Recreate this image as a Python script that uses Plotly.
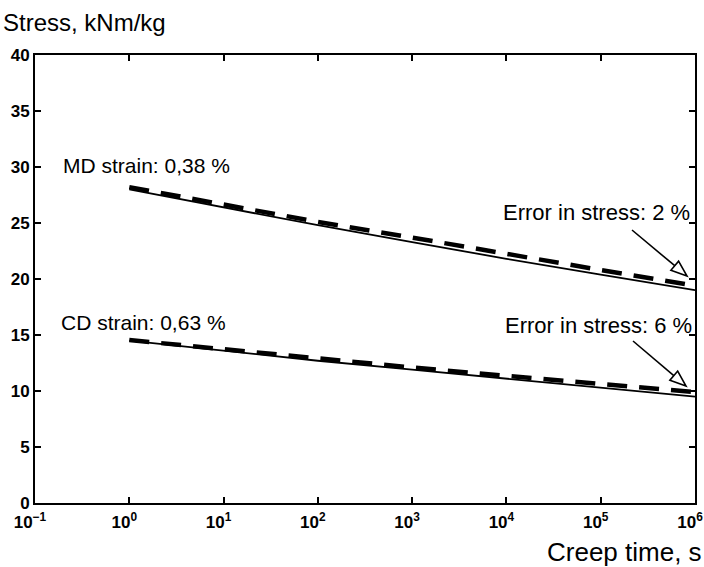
import plotly.graph_objects as go
import math

# Data
creep_time = [1, 10, 100, 1e3, 1e4, 1e5, 1e6]
md_solid = [28.0, 26.4, 24.8, 23.3, 21.8, 20.4, 19.0]
md_dashed = [28.2, 26.6, 25.1, 23.7, 22.2, 20.8, 19.4]
cd_solid = [14.5, 13.6, 12.7, 11.9, 11.1, 10.3, 9.5]
cd_dashed = [14.55, 13.7, 12.85, 12.1, 11.35, 10.6, 9.9]

x_tickvals = [0.1, 1, 10, 100, 1e3, 1e4, 1e5, 1e6]
x_ticktext = ["10<sup>\u22121</sup>", "10<sup>0</sup>", "10<sup>1</sup>", "10<sup>2</sup>",
              "10<sup>3</sup>", "10<sup>4</sup>", "10<sup>5</sup>", "10<sup>6</sup>"]

W, H = 704, 567
L, R, T, B = 35, 9, 55, 64
PW, PH = W - L - R, H - T - B

def px(x, y):
    return (x - L) / PW, (H - B - y) / PH

FONT = "Liberation Sans, Arial, Helvetica, sans-serif"

fig = go.Figure()
for ys in (md_solid, cd_solid):
    fig.add_trace(go.Scatter(x=creep_time, y=ys, mode="lines",
                             line=dict(color="black", width=1.8), showlegend=False))
for ys in (md_dashed, cd_dashed):
    fig.add_trace(go.Scatter(x=creep_time, y=ys, mode="lines",
                             line=dict(color="black", width=4.5, dash="20px,12px"),
                             showlegend=False))

annotations = []
def txt(text, x, y, xanchor, size=22):
    annotations.append(dict(text=text, x=x, y=y, xref="paper", yref="paper",
                            xanchor=xanchor, yanchor="middle", showarrow=False,
                            font=dict(family=FONT, size=size, color="black")))

x, y = px(61, 165); txt("MD strain: 0,38 %", x, y, "left", 21)
x, y = px(59, 322); txt("CD strain: 0,63 %", x, y, "left", 21)
x, y = px(692, 212); txt("Error in stress: 2 %", x, y, "right")
x, y = px(694, 325); txt("Error in stress: 6 %", x, y, "right")
x, y = px(1, 22); txt("Stress, kNm/kg", x, y, "left", 24)
x, y = px(704, 552); txt("Creep time, s", x, y, "right", 26)

shapes = []
def arrow(x0, y0, x1, y1, hl=16, hw=6):
    dx, dy = x1 - x0, y1 - y0
    n = math.hypot(dx, dy)
    ux, uy = dx / n, dy / n
    bx, by = x1 - hl * ux, y1 - hl * uy
    pxp, pyp = -uy, ux
    a = px(x0, y0); b = px(bx, by)
    shapes.append(dict(type="line", xref="paper", yref="paper", x0=a[0], y0=a[1],
                       x1=b[0], y1=b[1], line=dict(color="black", width=1.6)))
    c1 = px(bx + hw * pxp, by + hw * pyp)
    c2 = px(bx - hw * pxp, by - hw * pyp)
    t = px(x1, y1)
    path = f"M {c1[0]},{c1[1]} L {t[0]},{t[1]} L {c2[0]},{c2[1]} Z"
    shapes.append(dict(type="path", xref="paper", yref="paper", path=path,
                       fillcolor="white", line=dict(color="black", width=1.6)))

arrow(632, 230, 687, 276)
arrow(633, 341, 686, 386)

tickfont = dict(family=FONT, size=17, color="black", weight="bold")

fig.update_layout(
    width=W, height=H,
    margin=dict(l=L, r=R, t=T, b=B, autoexpand=False),
    paper_bgcolor="white", plot_bgcolor="white",
    font=dict(family=FONT, size=16, color="black"),
    annotations=annotations, shapes=shapes,
    xaxis=dict(type="log", range=[-1, 6], tickmode="array", tickvals=x_tickvals,
               ticktext=x_ticktext, automargin=False, ticklabeloverflow="allow",
               ticklabelshift=-5, ticklabelstandoff=3,
               showgrid=False, zeroline=False, showline=True, linecolor="black",
               linewidth=2, mirror="ticks", ticks="inside", ticklen=6,
               tickwidth=1.5, tickcolor="black", tickfont=tickfont),
    yaxis=dict(range=[0, 40], dtick=5, showgrid=False, zeroline=False,
               automargin=False, ticklabeloverflow="allow",
               showline=True, linecolor="black", linewidth=2, mirror="ticks",
               ticks="inside", ticklen=6, tickwidth=1.5, tickcolor="black",
               tickfont=tickfont),
)

fig.write_html("out.html", config={"displayModeBar": False},
               post_script="document.body.style.margin='0';document.body.style.overflow='hidden';")
